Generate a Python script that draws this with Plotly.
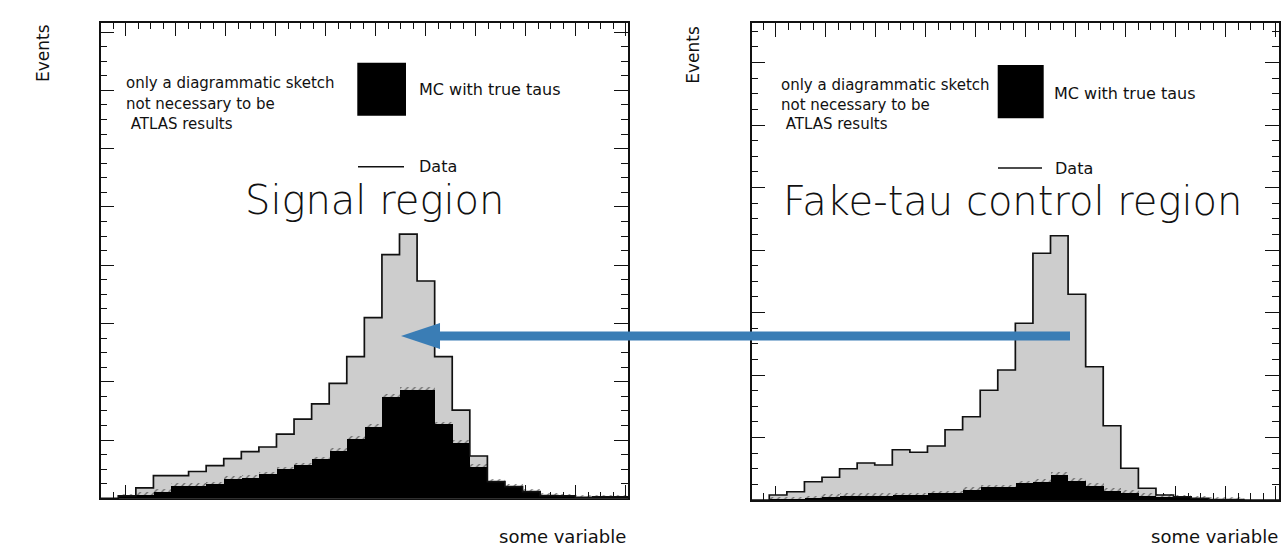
import numpy as np
import plotly.graph_objects as go

# ---------------- data (events per bin, 30 bins) ----------------
n_bins = 30
signal_data = [0, 2, 9, 19.5, 19.5, 23, 28, 34, 40, 44, 55, 68, 81, 98.6, 121.5,
               155, 209, 226.7, 186.4, 121.5, 75.7, 36.3, 14.3, 10, 5.7, 2.3, 2, 0.9, 1.3, 1.3]
signal_mc = [0, 2, 3.4, 5.7, 10.9, 10.9, 12.3, 17.2, 18, 20.8, 25.1, 28.6, 33.7, 40.9, 51.5,
             61.5, 87.2, 93.5, 93.5, 63.7, 47.8, 27.2, 14.3, 10, 5.7, 2.3, 2, 0.9, 1.3, 1.3]
fake_data = [0, 4, 6.6, 14.6, 18.2, 25, 29.6, 28, 40.2, 38.2, 43.2, 56.2, 66.6, 87.8, 104,
             141.4, 197.4, 211.4, 164.6, 106.6, 59.4, 25.4, 9.4, 4, 2.6, 1.4, 0.4, 0.3, 0, 0]
fake_mc = [0, 0.3, 0.5, 1.4, 2.6, 3.2, 3.2, 3.2, 3.8, 3.8, 5.4, 5.4, 8, 10.2, 10.2,
           13.4, 14.6, 20, 15.4, 11.4, 7.4, 5.8, 3.4, 2.6, 2.2, 1.4, 0.4, 0.3, 0, 0]

panel_titles = ["Signal region", "Fake-tau control region"]
legend_labels = ["MC with true taus", "Data"]
note_lines = ["only a diagrammatic sketch", "not necessary to be", "\u00a0ATLAS results"]
x_title = "some variable"
y_title = "Events"

bin_centers = np.arange(n_bins) + 0.5
bin_edges = np.arange(n_bins + 1)

W, H = 1286, 547
def px(x):
    return x / W
def py(y):
    return 1 - y / H

FONT = "DejaVu Sans"
GREY = "#cdcdcd"
INK = "#111111"
HATCH_H = 2.2

fig = go.Figure()

def add_panel(data, mc, xa, ya):
    fig.add_trace(go.Bar(x=bin_centers, y=data, width=1, marker=dict(color=GREY, line=dict(width=0)),
                         xaxis=xa, yaxis=ya, showlegend=False, hoverinfo="skip"))
    fig.add_trace(go.Bar(x=bin_centers, y=mc, width=1, marker=dict(color="black", line=dict(width=0)),
                         xaxis=xa, yaxis=ya, showlegend=False, hoverinfo="skip"))
    hatch = [HATCH_H if m > 0 else 0 for m in mc]
    fig.add_trace(go.Bar(x=bin_centers, y=hatch, base=mc, width=1,
                         marker=dict(color="rgba(0,0,0,0)", line=dict(width=0),
                                     pattern=dict(shape="/", fgcolor="black", bgcolor="rgba(0,0,0,0)",
                                                  size=5, solidity=0.25)),
                         xaxis=xa, yaxis=ya, showlegend=False, hoverinfo="skip"))
    fig.add_trace(go.Scatter(x=bin_edges, y=list(data) + [data[-1]], mode="lines",
                             line=dict(shape="hv", color=INK, width=1.7),
                             xaxis=xa, yaxis=ya, showlegend=False, hoverinfo="skip"))

add_panel(signal_data, signal_mc, "x", "y")
add_panel(fake_data, fake_mc, "x2", "y2")

def axis(domain, rng, tick0, dtick, mdtick, anchor):
    return dict(domain=domain, range=rng, anchor=anchor, showline=True, linecolor=INK, linewidth=1.5,
                mirror="allticks", ticks="inside", ticklen=14, tickwidth=1, tickcolor=INK,
                tick0=tick0, dtick=dtick, showticklabels=False, showgrid=False, zeroline=False,
                layer="below traces", fixedrange=True,
                minor=dict(ticks="inside", ticklen=7, tickwidth=1, tickcolor=INK, tick0=tick0,
                           dtick=mdtick, showgrid=False))

fig.update_layout(
    width=W, height=H, margin=dict(l=0, r=0, t=0, b=0),
    paper_bgcolor="white", plot_bgcolor="white",
    barmode="overlay", bargap=0, showlegend=False,
    xaxis=axis([px(100.7), px(628)], [0, 30], 1.423, 2.846, 0.7115, "y"),
    yaxis=axis([py(498.3), py(22.7)], [0, 408], 0, 50, 12.5, "x"),
    xaxis2=axis([px(751.7), px(1279)], [0, 30], 1.365, 2.846, 0.7115, "y2"),
    yaxis2=axis([py(500), py(23)], [0, 381.6], 0, 50, 12.5, "x2"),
)

ann = []
def text(t, x, y, size, xanchor="left", angle=0, weight="normal"):
    ann.append(dict(text=t, x=px(x), y=py(y), xref="paper", yref="paper", showarrow=False,
                    xanchor=xanchor, yanchor="middle", textangle=angle,
                    font=dict(family=FONT, size=size, color=INK, weight=weight)))

for i, ly in enumerate([83, 104, 124]):
    text(note_lines[i], 124.3, ly, 15)
for i, ly in enumerate([85, 105, 124]):
    text(note_lines[i], 779.3, ly, 15)

text(legend_labels[0], 416.7, 90, 16)
text(legend_labels[1], 416.7, 166, 16)
text(legend_labels[0], 1052, 93, 16)
text(legend_labels[1], 1053, 168, 16)

text(panel_titles[0], 243, 200, 40, weight=300)
text(panel_titles[1], 781, 201, 40, weight=300)

text(y_title, 42.5, 52.5, 17, xanchor="center", angle=-90)
text(y_title, 693, 54.7, 17, xanchor="center", angle=-90)
text(x_title, 628, 536, 18, xanchor="right")
text(x_title, 1280, 536, 18, xanchor="right")

shapes = []
for (x0, y0, x1, y1) in [(357.3, 62.7, 406, 115.7), (997.7, 65, 1043.7, 118.3)]:
    shapes.append(dict(type="rect", xref="paper", yref="paper", x0=px(x0), x1=px(x1), y0=py(y1), y1=py(y0),
                       fillcolor="black", line=dict(width=0)))
for (x0, x1, yy) in [(358, 404, 166.7), (998, 1042, 168)]:
    shapes.append(dict(type="line", xref="paper", yref="paper", x0=px(x0), x1=px(x1), y0=py(yy), y1=py(yy),
                       line=dict(color=INK, width=1.5)))

pts = [(1070, 331.5), (440, 331.5), (440, 323), (401, 336), (440, 349), (440, 340.5), (1070, 340.5)]
path = "M " + " L ".join(f"{px(a):.5f},{py(b):.5f}" for a, b in pts) + " Z"
shapes.append(dict(type="path", xref="paper", yref="paper", path=path,
                   fillcolor="#3a7db5", line=dict(width=0), layer="above"))

fig.update_layout(annotations=ann, shapes=shapes)
fig.write_html("out.html", config={"displayModeBar": False},
               post_script="document.body.style.margin='0';document.body.style.overflow='hidden';")
